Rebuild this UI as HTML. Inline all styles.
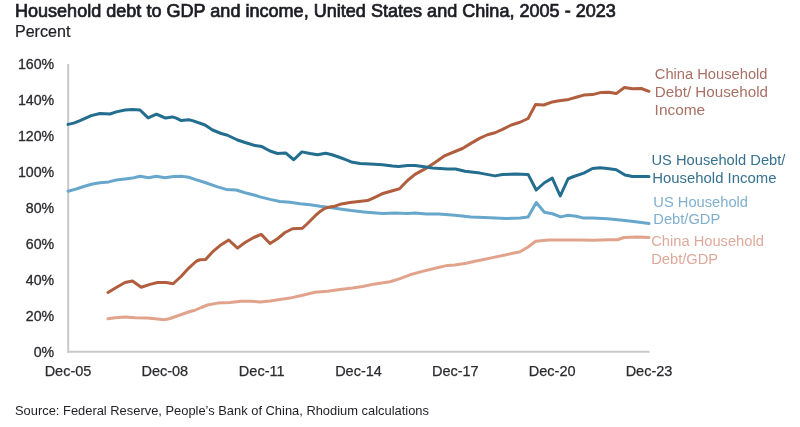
<!DOCTYPE html>
<html><head><meta charset="utf-8"><style>
html,body{margin:0;padding:0;background:#fff;}
body{width:800px;height:427px;overflow:hidden;}
svg{display:block;filter:blur(0.35px);font-family:"Liberation Sans",sans-serif;}
</style></head><body>
<svg width="800" height="427" viewBox="0 0 800 427">
<rect width="800" height="427" fill="#fff"/>
<text x="14.9" y="16.8" font-size="17.8" fill="#1c1c24" stroke="#1c1c24" stroke-width="0.7" textLength="601" lengthAdjust="spacingAndGlyphs">Household debt to GDP and income, United States and China, 2005 - 2023</text>
<text x="14.9" y="37.3" font-size="16.1" fill="#1e1e24" stroke="#1e1e24" stroke-width="0.2">Percent</text>
<g font-size="14.2" fill="#2b2b2f" stroke="#2b2b2f" stroke-width="0.3"><text x="54.2" y="69.1" text-anchor="end">160%</text><text x="54.2" y="105.1" text-anchor="end">140%</text><text x="54.2" y="141.1" text-anchor="end">120%</text><text x="54.2" y="177.1" text-anchor="end">100%</text><text x="54.2" y="213.1" text-anchor="end">80%</text><text x="54.2" y="249.1" text-anchor="end">60%</text><text x="54.2" y="285.1" text-anchor="end">40%</text><text x="54.2" y="321.1" text-anchor="end">20%</text><text x="54.2" y="357.1" text-anchor="end">0%</text></g>
<g font-size="14.5" fill="#2b2b2f" stroke="#2b2b2f" stroke-width="0.25"><text x="68.0" y="375.6" text-anchor="middle">Dec-05</text><text x="164.8" y="375.6" text-anchor="middle">Dec-08</text><text x="261.7" y="375.6" text-anchor="middle">Dec-11</text><text x="358.5" y="375.6" text-anchor="middle">Dec-14</text><text x="455.3" y="375.6" text-anchor="middle">Dec-17</text><text x="552.2" y="375.6" text-anchor="middle">Dec-20</text><text x="649.0" y="375.6" text-anchor="middle">Dec-23</text></g>
<line x1="68.2" y1="64" x2="68.2" y2="352.8" stroke="#c9c9c9" stroke-width="2"/>
<line x1="67.2" y1="351.8" x2="649.5" y2="351.8" stroke="#c9c9c9" stroke-width="2"/>
<g fill="none" stroke-width="3" stroke-linejoin="round" stroke-linecap="round">
<polyline points="108.00,318.75 115.00,317.75 125.00,316.90 135.00,317.75 147.50,318.10 157.50,319.00 164.40,319.75 170.00,318.50 180.00,315.00 190.00,311.50 195.00,310.25 201.25,307.50 207.50,305.00 217.50,303.10 230.00,302.50 241.25,301.25 251.25,301.25 260.00,301.90 270.00,301.00 280.00,299.40 290.00,298.10 302.50,295.25 315.00,292.25 327.50,291.30 340.00,289.50 352.50,288.00 362.50,286.50 375.00,283.90 390.00,281.70 400.00,278.60 410.00,274.80 422.50,271.40 435.00,268.30 447.50,265.40 455.00,265.00 466.25,263.20 475.00,261.30 485.00,259.20 492.50,257.60 505.00,255.00 520.00,251.80 528.50,246.80 535.60,241.25 548.75,240.00 561.25,240.00 580.00,240.00 592.50,240.25 610.00,239.75 617.50,239.75 624.00,237.50 637.50,236.90 649.00,237.50" stroke="#e2a38d"/>
<polyline points="68.00,191.20 76.25,189.00 83.75,186.50 92.50,184.00 100.00,182.75 108.75,181.90 116.25,180.00 125.00,179.00 132.50,178.10 140.00,176.25 148.75,177.75 156.25,176.25 165.00,177.75 173.75,176.50 181.25,176.25 188.75,177.25 195.00,179.40 205.00,182.50 217.50,186.90 226.25,189.40 236.25,190.00 245.00,192.75 255.00,195.25 260.00,196.90 270.00,199.40 280.00,201.50 290.00,202.25 300.00,203.75 310.00,204.75 320.00,206.25 330.00,207.50 340.00,209.00 351.25,210.60 363.75,211.90 382.50,213.50 395.00,213.10 407.50,213.50 415.00,213.10 426.25,214.00 438.75,214.00 455.00,215.25 471.25,216.90 490.00,217.75 506.25,218.50 520.00,218.10 528.10,216.90 536.25,202.50 544.40,212.25 552.50,213.75 560.60,216.90 568.10,215.25 576.25,216.25 583.75,218.10 592.50,218.10 607.50,218.75 617.50,219.75 625.00,220.60 637.50,221.90 649.00,223.50" stroke="#68a7cc"/>
<polyline points="108.00,292.50 116.25,287.50 125.00,282.50 132.50,281.00 141.25,287.25 150.00,284.40 157.50,282.50 166.25,282.50 173.10,283.75 181.25,276.25 188.75,268.10 196.25,261.25 200.00,259.75 205.60,259.40 212.50,251.90 220.00,245.60 228.75,240.00 237.50,248.10 245.00,242.50 253.75,237.50 261.25,234.40 270.00,243.50 277.50,238.75 285.00,232.50 292.50,228.75 302.50,228.20 307.00,224.00 311.50,219.50 316.00,215.00 320.50,211.20 325.00,208.20 329.50,207.10 335.00,206.20 340.00,204.30 350.00,202.50 367.50,200.60 373.75,197.80 382.00,193.80 389.00,191.70 399.50,188.80 407.50,180.50 415.00,174.40 425.00,168.90 435.00,162.50 445.00,155.60 455.00,151.50 462.50,148.50 471.25,143.10 480.00,138.10 487.50,134.75 495.00,132.75 502.50,129.40 511.25,125.00 520.00,122.25 528.10,118.50 535.60,104.40 543.75,105.00 552.50,101.90 557.50,101.00 568.75,99.40 576.25,97.20 583.75,95.10 592.50,94.60 601.25,92.40 608.75,92.30 616.25,93.60 624.40,87.50 632.50,88.75 641.25,88.50 649.00,91.30" stroke="#b05e3e"/>
<polyline points="68.00,124.40 73.75,123.10 80.00,120.60 91.25,115.60 100.00,113.50 110.00,114.00 116.25,111.90 125.00,110.00 132.50,109.60 140.00,110.00 148.10,117.90 156.50,114.20 161.25,116.25 165.60,118.10 172.50,116.90 176.25,118.10 181.25,120.60 188.75,119.75 192.50,120.60 205.00,125.00 212.50,130.00 221.25,133.50 227.50,135.25 237.50,140.00 245.00,142.50 250.00,144.00 255.00,145.60 261.90,146.60 270.00,151.00 277.50,153.50 285.60,152.90 293.75,159.75 301.90,151.90 310.00,153.50 317.50,154.75 325.60,153.25 331.25,154.50 340.00,157.50 345.00,159.40 351.25,161.90 360.00,163.50 370.00,164.10 382.50,164.75 392.50,166.00 398.75,166.50 407.50,165.40 415.00,165.40 422.50,166.60 432.50,168.10 440.00,168.50 447.50,169.00 455.60,169.00 465.00,171.25 480.00,173.10 495.00,175.90 502.50,174.50 515.00,174.10 528.10,174.40 536.25,190.00 544.40,182.75 552.25,178.10 560.25,196.00 568.10,178.75 573.75,176.50 583.75,173.10 592.50,168.50 600.00,167.75 607.50,168.50 616.25,169.75 625.00,175.00 632.50,176.50 649.00,176.50" stroke="#236d8f"/>
</g>
<g font-size="14.7">
<text x="654.8" y="78.7" fill="#a97065">China Household</text>
<text x="654.8" y="96.6" fill="#a97065" textLength="113.2" lengthAdjust="spacingAndGlyphs">Debt/ Household</text>
<text x="654.6" y="114.5" fill="#a97065" textLength="50.6" lengthAdjust="spacingAndGlyphs">Income</text>
<text x="651.5" y="165.3" fill="#36718f">US Household Debt/</text>
<text x="652.2" y="183" fill="#36718f" textLength="124.3" lengthAdjust="spacingAndGlyphs">Household Income</text>
<text x="653.3" y="206.5" fill="#80afce">US Household</text>
<text x="653.3" y="224.4" fill="#80afce">Debt/GDP</text>
<text x="651.2" y="246.2" fill="#dea99a">China Household</text>
<text x="651.2" y="264" fill="#dea99a">Debt/GDP</text>
</g>
<text x="15" y="414.8" font-size="12.9" fill="#1e1e24">Source: Federal Reserve, People’s Bank of China, Rhodium calculations</text>
</svg>
</body></html>
